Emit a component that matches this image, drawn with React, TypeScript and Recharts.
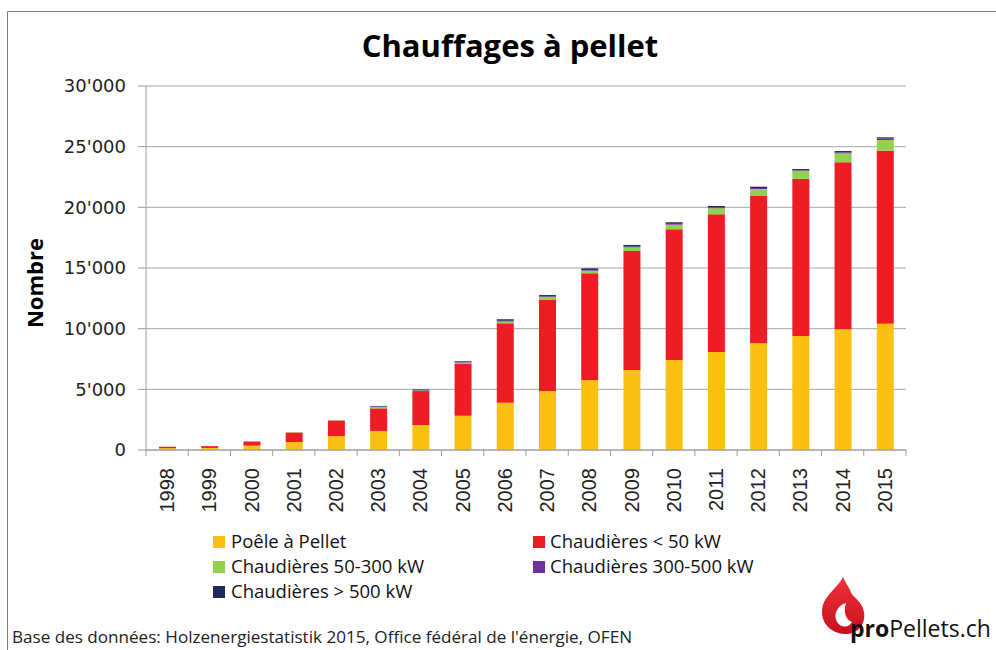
import { BarChart, Bar, XAxis, YAxis, CartesianGrid } from 'recharts';

const years = ['1998', '1999', '2000', '2001', '2002', '2003', '2004', '2005', '2006', '2007', '2008', '2009', '2010', '2011', '2012', '2013', '2014', '2015'];
const poele = [150, 170, 360, 660, 1150, 1570, 2060, 2830, 3900, 4860, 5770, 6590, 7420, 8080, 8790, 9400, 9950, 10410];
const chaud50 = [120, 150, 340, 780, 1280, 1860, 2800, 4260, 6540, 7500, 8790, 9810, 10770, 11340, 12140, 12960, 13760, 14260];
const chaud300 = [10, 0, 20, 40, 40, 120, 40, 110, 160, 250, 220, 300, 380, 500, 580, 660, 740, 880];
const chaud500 = [0, 0, 0, 0, 0, 30, 20, 40, 50, 50, 60, 60, 70, 70, 80, 60, 80, 120];
const chaudBig = [0, 0, 0, 0, 0, 50, 70, 70, 120, 110, 130, 140, 130, 120, 110, 80, 110, 100];
const yTicks = [0, 5000, 10000, 15000, 20000, 25000, 30000];

const series = [
  { key: 'poele', name: 'Poêle à Pellet', color: '#FCC012', values: poele },
  { key: 'chaud50', name: 'Chaudières < 50 kW', color: '#EE1C25', values: chaud50 },
  { key: 'chaud300', name: 'Chaudières 50-300 kW', color: '#92D050', values: chaud300 },
  { key: 'chaud500', name: 'Chaudières 300-500 kW', color: '#7030A0', values: chaud500 },
  { key: 'chaudBig', name: 'Chaudières > 500 kW', color: '#1F2A5C', values: chaudBig },
];

const data = years.map((year, i) => {
  const row: Record<string, string | number> = { year };
  series.forEach((s) => { row[s.key] = s.values[i]; });
  return row;
});

const fmt = (v: number) => String(v).replace(/\B(?=(\d{3})+(?!\d))/g, "'");

const YearTick = (props: any) => {
  const { x, y, payload, index } = props;
  const half = payload.offset || 21.1;
  return (
    <g>
      {index === 0 && <line x1={x - half} y1={y} x2={x - half} y2={y + 6} stroke="#9a9a9a" />}
      <line x1={x + half} y1={y} x2={x + half} y2={y + 6} stroke="#9a9a9a" />
      <text
        x={x + 7}
        y={y + 18}
        transform={`rotate(-90, ${x + 7}, ${y + 18})`}
        textAnchor="end"
        fontFamily="'Liberation Sans', Arial, sans-serif"
        fontSize={20}
        fill="#222"
      >
        {payload.value}
      </text>
    </g>
  );
};

const legendRows = [
  [series[0], series[1]],
  [series[2], series[3]],
  [series[4]],
];

export default function App() {
  return (
    <div style={{ position: 'absolute', left: 0, top: 0, width: 996, height: 650, background: '#fff' }}>
      <BarChart
        width={996}
        height={650}
        data={data}
        margin={{ top: 86, right: 90, left: 0, bottom: 130 }}
      >
        <CartesianGrid vertical={false} stroke="#a6a6a6" />
        <XAxis
          dataKey="year"
          height={70}
          tickLine={false}
          tickSize={0}
          tickMargin={0}
          interval={0}
          axisLine={{ stroke: '#9a9a9a' }}
          tick={<YearTick />}
        />
        <YAxis
          width={146}
          domain={[0, 30000]}
          ticks={yTicks}
          tickFormatter={fmt}
          tickSize={8}
          tickMargin={12}
          axisLine={{ stroke: '#9a9a9a' }}
          tickLine={{ stroke: '#9a9a9a' }}
          tick={{ fill: '#222', fontSize: 18, fontFamily: "'DejaVu Sans', sans-serif" }}
        />
        {series.map((s) => (
          <Bar
            key={s.key}
            dataKey={s.key}
            name={s.name}
            stackId="a"
            fill={s.color}
            barSize={17}
            isAnimationActive={false}
          />
        ))}
      </BarChart>
      <svg
        width={996}
        height={650}
        style={{ position: 'absolute', left: 0, top: 0, pointerEvents: 'none' }}
      >
        <polyline points="7.5,650 7.5,11.5 996,11.5" fill="none" stroke="#808080" strokeWidth={1} />
        <text x={510} y={57} textAnchor="middle" fontFamily="'Open Sans', sans-serif" fontWeight={700} fontSize={31} fill="#000">
          Chauffages à pellet
        </text>
        <text
          x={43}
          y={283}
          transform="rotate(-90, 43, 283)"
          textAnchor="middle"
          fontFamily="'Open Sans', sans-serif"
          fontWeight={700}
          fontSize={22}
          fill="#000"
        >
          Nombre
        </text>
        {legendRows.map((row, r) =>
          row.map((s, c) => (
            <g key={s.key}>
              <rect x={c === 0 ? 213 : 533} y={536 + r * 25} width={12} height={12} fill={s.color} />
              <text
                x={c === 0 ? 231 : 550}
                y={548 + r * 25}
                fontFamily="'Open Sans', sans-serif"
                fontSize={18.5}
                fill="#111"
              >
                {s.name}
              </text>
            </g>
          ))
        )}
        <text
          x={12}
          y={643}
          fontFamily="'Open Sans', sans-serif"
          fontSize={16.5}
          textLength={620}
          lengthAdjust="spacingAndGlyphs"
          fill="#222"
        >
          Base des données: Holzenergiestatistik 2015, Office fédéral de l'énergie, OFEN
        </text>
        <defs>
          <linearGradient id="flame" x1="0" y1="0" x2="0" y2="1">
            <stop offset="0" stopColor="#F0323C" />
            <stop offset="1" stopColor="#C8101E" />
          </linearGradient>
        </defs>
        <path
          d="M843 577 C838 588 822 596 822 612 C822 626 834 634 846 634 C858 634 866 624 864 612 C862 600 852 598 850 590 C848 586 845 582 843 577 Z"
          fill="url(#flame)"
        />
        <path
          d="M846 603 C837 606 833 614 837 622 C841 628 849 628 852 622 C846 620 843 612 846 603 Z"
          fill="#fff"
        />
        <text x={850} y={637} fontFamily="'Open Sans', sans-serif" fontSize={23} fill="#111">
          <tspan fontWeight={700}>pro</tspan>
          <tspan>Pellets.ch</tspan>
        </text>
      </svg>
    </div>
  );
}
